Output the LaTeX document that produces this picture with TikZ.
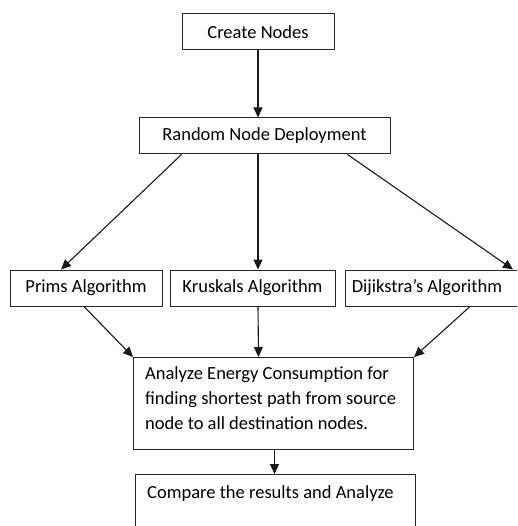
\documentclass[tikz,border=0pt]{standalone}
\usepackage{fontspec}
\setmainfont{Carlito}
\usetikzlibrary{arrows.meta}
\begin{document}
\begin{tikzpicture}[x=1pt,y=-1pt,
  box/.style={draw=black!85, line width=1pt, rectangle, inner sep=0pt, font=\fontsize{18.5}{25}\selectfont},
  arr/.style={draw=black!90, line width=1.1pt, -{Triangle[length=10pt,width=9pt]}},
  txt/.style={inner sep=0pt, font=\fontsize{18.5}{25}\selectfont}]
\useasboundingbox (0,0) rectangle (517,526);
\clip (0,0) rectangle (517,526);
\node[box, minimum width=152pt, minimum height=36pt] (create) at (258,32) {Create Nodes};
\node[box, minimum width=251pt, minimum height=36pt] (random) at (264.5,136) {Random Node Deployment};
\node[box, minimum width=152pt, minimum height=36pt] (prims) at (86,288) {Prims Algorithm};
\node[box, minimum width=165pt, minimum height=36pt] (kruskal) at (252.5,288) {Kruskals Algorithm};
\node[box, minimum width=174pt, minimum height=36pt, anchor=west] (dij) at (345,288) {\hspace*{-3pt}Dijikstra’s Algorithm\hspace*{8pt}};
\node[box, minimum width=280pt, minimum height=92pt, anchor=north west] (analyze) at (133,357) {};
\node[txt, align=left, anchor=north west] (analyzetext) at (145,366) {Analyze Energy Consumption for\\finding shortest path from source\\node to all destination nodes.};
\node[box, minimum width=280pt, minimum height=90pt, anchor=north west] (compare) at (135,474) {};
\node[txt, anchor=base west] (comparetext) at (147,498) {Compare the results and Analyze};

\draw[arr] (create.south) -- (create.south |- random.north);
\draw[arr] ([xshift=43pt]random.south west) -- ([xshift=-25pt]prims.north);
\draw[arr] ([xshift=-6.5pt]random.south) -- ([xshift=5.5pt]kruskal.north);
\draw[arr] ([xshift=-43pt]random.south east) -- ([xshift=-7pt]dij.north east);
\draw[arr] ([xshift=-2pt]prims.south) -- (analyze.north west);
\draw[arr] ([xshift=5.5pt]kruskal.south) -- ([xshift=-15pt]analyze.north);
\draw[arr] ([xshift=-50pt]dij.south east) -- (analyze.north east);
\draw[arr] ([xshift=1pt]analyze.south) -- ([xshift=-1pt]compare.north);
\end{tikzpicture}
\end{document}
